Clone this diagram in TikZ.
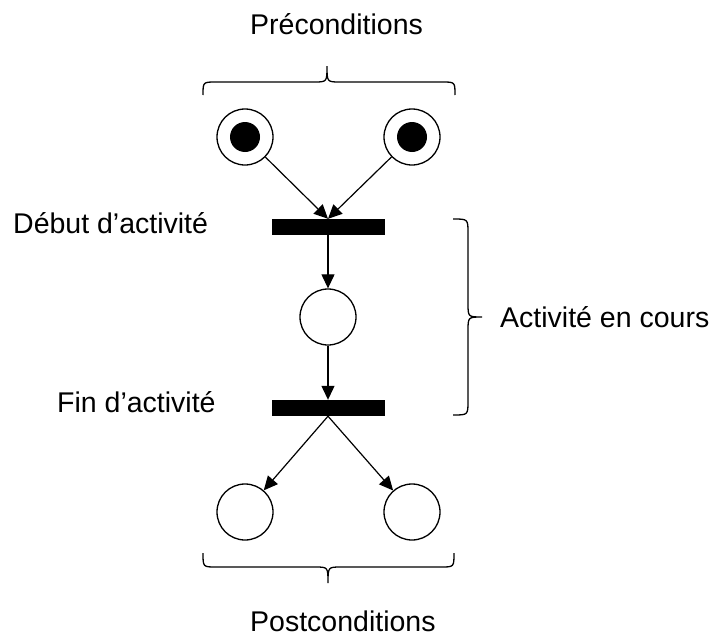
\documentclass[tikz,border=0pt]{standalone}
\usepackage{fontspec}
\setmainfont{Liberation Sans}
\usetikzlibrary{arrows.meta}
\tikzset{
  place/.style={draw, circle, line width=1.3pt, minimum size=56pt, inner sep=0pt},
  token/.style={fill=black, circle, minimum size=30pt, inner sep=0pt},
  bar/.style={fill=black, rectangle, minimum width=113pt, minimum height=16pt, inner sep=0pt},
  arr/.style={line width=1.2pt, -{Triangle[length=14pt,width=13pt]}},
  bracepath/.style={line width=1.3pt},
  lbl/.style={inner sep=0pt, anchor=base west, font=\fontsize{28.5}{34}\selectfont}
}
\begin{document}
\begin{tikzpicture}[x=1pt,y=-1pt]
\useasboundingbox (0,0) rectangle (717,637);
% places
\node[place] (p1) at (245,137) {};
\node[token] (k1) at (245,137) {};
\node[place] (p2) at (412,137) {};
\node[token] (k2) at (412,137) {};
\node[bar] (t1) at (328,227) {};
\node[place] (p3) at (328,317) {};
\node[bar] (t2) at (328,408) {};
\node[place] (p4) at (245,512) {};
\node[place] (p5) at (412,512) {};
% arcs
\draw[arr] (p1) -- (t1.north);
\draw[arr] (p2) -- (t1.north);
\draw[arr] (t1.south) -- (p3);
\draw[arr] (p3) -- (t2.north);
\draw[arr] (t2.south) -- (p4);
\draw[arr] (t2.south) -- (p5);
% braces
\draw[bracepath] (203,95) .. controls (203,82) .. (216,82) -- (314,82) .. controls (327,82) .. (327,66) .. controls (327,82) .. (340,82) -- (442,82) .. controls (455,82) .. (455,95);
\draw[bracepath] (453,219) .. controls (468,219) .. (468,233) -- (468,303) .. controls (468,317) .. (482,317) .. controls (468,317) .. (468,331) -- (468,401) .. controls (468,415) .. (453,415);
\draw[bracepath] (203,553) .. controls (203,567) .. (216,567) -- (315,567) .. controls (328,567) .. (328,583) .. controls (328,567) .. (341,567) -- (441,567) .. controls (454,567) .. (454,553);
% labels
\node[lbl] (pre) at (250,34) {Préconditions};
\node[lbl] (post) at (250,631) {Postconditions};
\node[lbl] (deb) at (13,233) {Début d’activité};
\node[lbl] (fin) at (57,412) {Fin d’activité};
\node[lbl] (enc) at (500,327) {Activité en cours};
\end{tikzpicture}
\end{document}
